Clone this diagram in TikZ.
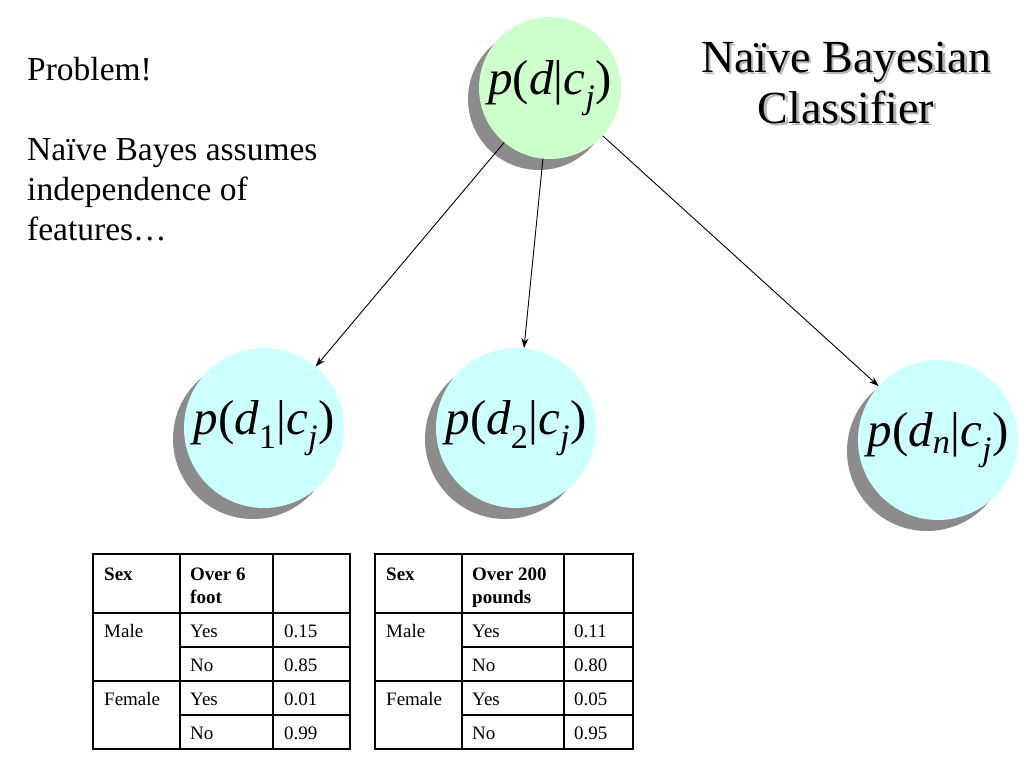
\documentclass[tikz,border=0pt]{standalone}
\usepackage{fontspec}
\setmainfont{Liberation Serif}
\usetikzlibrary{shadows,arrows.meta}
\definecolor{ballcyan}{RGB}{204,255,255}
\definecolor{ballgreen}{RGB}{204,255,204}
\definecolor{shadowgray}{RGB}{140,140,140}
\begin{document}
\begin{tikzpicture}[x=1pt,y=-1pt,
  ball/.style={circle,inner sep=0pt,minimum size=160pt,fill=ballcyan,
    drop shadow={shadow xshift=-11pt,shadow yshift=-11pt,fill=shadowgray,opacity=1},
    font=\fontsize{49}{56}\selectfont},
  topball/.style={ball,minimum size=142pt,fill=ballgreen},
  lbl/.style={anchor=base west,inner sep=0pt,font=\fontsize{33.5}{40}\selectfont},
  cell/.style={anchor=base west,inner sep=0pt,font=\fontsize{19}{22}\selectfont},
  hcell/.style={cell,font=\fontsize{19}{22}\selectfont\bfseries},
  title/.style={anchor=base,inner sep=0pt,font=\fontsize{46}{52}\selectfont},
  outer/.style={line width=2.8pt},
  inner/.style={line width=1.2pt},
  arr/.style={-{Stealth[length=10pt,width=7pt]},line width=0.9pt}
]
\useasboundingbox (0,0) rectangle (1024,768);

% left text
\node[lbl] (prob) at (27,80) {Problem!};
\node[lbl] (l1) at (27,160) {Naïve Bayes assumes};
\node[lbl] (l2) at (27,200) {independence of};
\node[lbl] (l3) at (27,240) {features…};

% title with soft shadow
\node[title,text=gray!55] (ts1) at (848.5,74.5) {Naïve Bayesian};
\node[title,text=gray!55] (ts2) at (848.5,125.5) {Classifier};
\node[title] (t1) at (846,72) {Naïve Bayesian};
\node[title] (t2) at (846,123) {Classifier};

% circles
\node[topball] (top) at (550,88) {\textit{p}(\textit{d}|\textit{c}\textsubscript{\textit{j}})};
\node[ball] (c1) at (264,428) {\textit{p}(\textit{d}\textsubscript{1}|\textit{c}\textsubscript{\textit{j}})};
\node[ball] (c2) at (516,428) {\textit{p}(\textit{d}\textsubscript{2}|\textit{c}\textsubscript{\textit{j}})};
\node[ball] (c3) at (938,440) {\textit{p}(\textit{d}\textsubscript{\textit{n}}|\textit{c}\textsubscript{\textit{j}})};

\draw[arr] (top) -- (c1);
\draw[arr] (top) -- (c2);
\draw[arr] (top) -- (c3);

% left table
\draw[inner] (93,613) -- (350,613) (93,681) -- (350,681)
  (180,647) -- (350,647) (180,715) -- (350,715)
  (180,554) -- (180,749) (273,554) -- (273,749);
\draw[outer] (93,554) rectangle (350,749);
\node[hcell] (a11) at (104,580) {Sex};
\node[hcell] (a12) at (190,580) {Over 6};
\node[hcell] (a12b) at (190,603) {foot};
\node[cell] (a21) at (104,637) {Male};
\node[cell] (a22) at (190,637) {Yes};
\node[cell] (a23) at (284,637) {0.15};
\node[cell] (a32) at (190,671) {No};
\node[cell] (a33) at (284,671) {0.85};
\node[cell] (a41) at (104,705) {Female};
\node[cell] (a42) at (190,705) {Yes};
\node[cell] (a43) at (284,705) {0.01};
\node[cell] (a52) at (190,739) {No};
\node[cell] (a53) at (284,739) {0.99};

% right table
\draw[inner] (375,613) -- (633,613) (375,681) -- (633,681)
  (462,647) -- (633,647) (462,715) -- (633,715)
  (462,554) -- (462,749) (564,554) -- (564,749);
\draw[outer] (375,554) rectangle (633,749);
\node[hcell] (b11) at (386,580) {Sex};
\node[hcell] (b12) at (472,580) {Over 200};
\node[hcell] (b12b) at (472,603) {pounds};
\node[cell] (b21) at (386,637) {Male};
\node[cell] (b22) at (472,637) {Yes};
\node[cell] (b23) at (574,637) {0.11};
\node[cell] (b32) at (472,671) {No};
\node[cell] (b33) at (574,671) {0.80};
\node[cell] (b41) at (386,705) {Female};
\node[cell] (b42) at (472,705) {Yes};
\node[cell] (b43) at (574,705) {0.05};
\node[cell] (b52) at (472,739) {No};
\node[cell] (b53) at (574,739) {0.95};
\end{tikzpicture}
\end{document}
